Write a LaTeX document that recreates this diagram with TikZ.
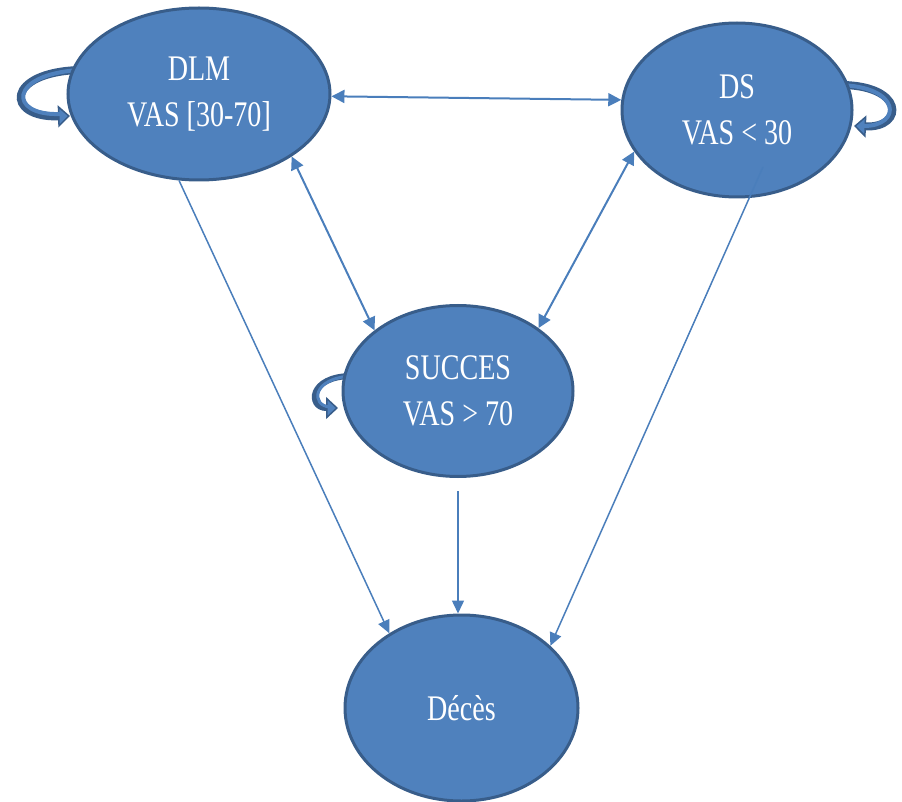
\documentclass[tikz,border=0pt]{standalone}
\usepackage{fontspec}
\setmainfont{Liberation Serif}
\newfontfamily\statefont[FakeStretch=0.78]{Liberation Serif}
\usetikzlibrary{shapes.geometric,arrows.meta}
\definecolor{fillblue}{HTML}{4F81BD}
\definecolor{edgeblue}{HTML}{385D8A}
\definecolor{lineblue}{HTML}{4A7EBB}
\tikzset{
  state/.style={ellipse, fill=fillblue, draw=edgeblue, line width=3pt, inner sep=0pt,
    text=white, font=\statefont\fontsize{36}{46}\selectfont, align=center},
  link/.style={draw=lineblue, line width=2pt, {Triangle[length=13pt,width=13pt]}-{Triangle[length=13pt,width=13pt]}},
  onelink/.style={draw=lineblue, line width=1.5pt, -{Triangle[length=13pt,width=12pt]}},
  loopout/.style={draw=edgeblue, line width=8pt, -{Triangle[length=12pt,width=22pt,fill=fillblue,line width=1.5pt]}},
  loopin/.style={draw=fillblue, line width=4pt}
}
\begin{document}
\begin{tikzpicture}[x=1pt,y=-1pt]
\useasboundingbox (0,0) rectangle (902,802);
% self loops (behind nodes)
\draw[loopout] (80,70) .. controls (5,72) and (5,118) .. (70,116);
\draw[loopin] (80,70) .. controls (8,74) and (8,116) .. (60,114);
\draw[loopout] (838,85) .. controls (905,84) and (905,128) .. (854,126);
\draw[loopin] (838,85) .. controls (902,86) and (902,126) .. (864,126);
\draw[loopout,line width=6pt] (352,376) .. controls (308,376) and (308,408) .. (338,408);
\draw[loopin,line width=3pt] (352,376) .. controls (311,378) and (311,406) .. (330,407);
% states
\node[state, minimum width=262pt, minimum height=172pt] (dlm) at (199,94) {DLM\\VAS [30-70]};
\node[state, minimum width=230pt, minimum height=174pt] (ds) at (737,110) {DS\\VAS < 30};
\node[state, minimum width=230pt, minimum height=171pt] (succes) at (458,391) {SUCCES\\VAS > 70};
\node[state, minimum width=233pt, minimum height=186pt] (deces) at (461.5,708) {Décès};
\coordinate (dsout) at (763,167);
% connectors
\draw[link] (dlm.-1) -- (ds.175);
\draw[link] (dlm.-34) -- (succes.144);
\draw[link] (ds.202) -- (succes.38);
\draw[onelink] (dlm.257) -- (deces.134);
\draw[onelink, shorten <=13pt] (succes.south) -- (succes.south |- deces.north);
\draw[onelink] (dsout) -- (deces.35);
\end{tikzpicture}
\end{document}
